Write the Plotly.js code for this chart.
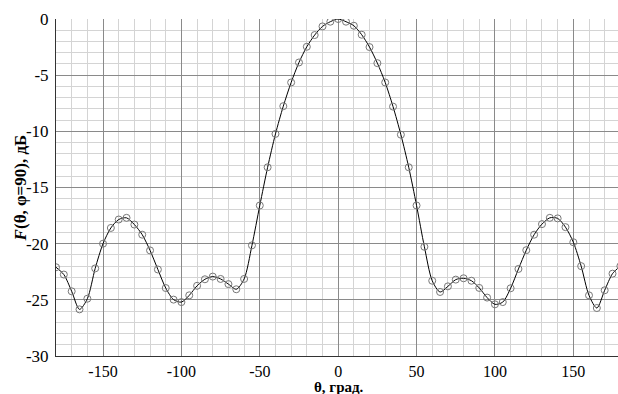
<!DOCTYPE html>
<html>
<head>
<meta charset="utf-8">
<script src="https://cdn.plot.ly/plotly-3.0.1.min.js"></script>
<style>html,body{margin:0;padding:0;background:#fff;}#chart{width:618px;height:394px;}</style>
</head>
<body>
<div id="chart"></div>
<script>
const theta = [-180,-175,-170,-165,-160,-155,-150,-145,-140,-135,-130,-125,-120,-115,-110,-105,-100,-95,-90,-85,-80,-75,-70,-65,-60,-55,-50,-45,-40,-35,-30,-25,-20,-15,-10,-5,0,5,10,15,20,25,30,35,40,45,50,55,60,65,70,75,80,85,90,95,100,105,110,115,120,125,130,135,140,145,150,155,160,165,170,175,180];
const gainDb = [-22.1,-22.75,-24.24,-25.85,-24.9,-22.2,-20.0,-18.6,-17.85,-17.7,-18.3,-19.2,-20.6,-22.3,-23.95,-24.98,-25.2,-24.6,-23.75,-23.17,-22.93,-23.14,-23.6,-24.06,-23.14,-20.15,-16.6,-13.2,-10.23,-7.76,-5.65,-3.87,-2.47,-1.43,-0.66,-0.24,0,-0.24,-0.6,-1.4,-2.5,-3.93,-5.65,-7.8,-10.3,-13.2,-16.6,-20.28,-23.3,-24.3,-23.8,-23.2,-23.08,-23.3,-23.94,-24.8,-25.4,-25.2,-23.97,-22.25,-20.58,-19.2,-18.26,-17.7,-17.75,-18.53,-19.87,-22.0,-24.6,-25.73,-24.15,-22.67,-22.0];
const xTicks = [-150,-100,-50,0,50,100,150];
const yTicks = [-30,-25,-20,-15,-10,-5,0];
const xTitle = '<b>θ, град.</b>';
const yTitle = '<b><i>F</i>(θ, φ=90), дБ</b>';

const serif = 'Liberation Serif';

const traces = [
  {x: theta, y: gainDb, type: 'scatter', mode: 'lines',
   line: {color: '#000', width: 1, shape: 'spline', smoothing: 0.8},
   hoverinfo: 'skip', showlegend: false},
  {x: theta, y: gainDb, type: 'scatter', mode: 'markers',
   marker: {symbol: 'circle-open', size: 7, color: '#777', line: {width: 1, color: '#777'}},
   showlegend: false}
];

const layout = {
  width: 618, height: 394,
  margin: {l: 56, r: 0, t: 19, b: 38},
  paper_bgcolor: '#fff', plot_bgcolor: '#fff',
  font: {family: serif, size: 16, color: '#000'},
  showlegend: false,
  xaxis: {
    range: [-180, 178.5], tickvals: xTicks, ticktext: xTicks.map(String),
    showgrid: true, gridcolor: '#8a8a8a', gridwidth: 1,
    minor: {dtick: 10, tick0: 0, showgrid: true, gridcolor: '#d4d4d4', gridwidth: 1},
    zeroline: false, showline: true, linecolor: '#333', linewidth: 1,
    ticks: '', ticklabelstandoff: 1,
    tickfont: {family: serif, size: 16, color: '#000'}
  },
  yaxis: {
    range: [-30, 0], tickvals: yTicks, ticktext: yTicks.map(String),
    showgrid: true, gridcolor: '#8a8a8a', gridwidth: 1,
    minor: {dtick: 1, tick0: 0, showgrid: true, gridcolor: '#d4d4d4', gridwidth: 1},
    zeroline: false, showline: true, linecolor: '#333', linewidth: 1,
    ticks: '', ticklabelstandoff: 3,
    tickfont: {family: serif, size: 17, color: '#000'}
  },
  annotations: [
    {text: xTitle, xref: 'paper', yref: 'paper', x: 0.503, y: -0.092,
     xanchor: 'center', yanchor: 'middle', showarrow: false,
     font: {family: serif, size: 15, color: '#000'}},
    {text: yTitle, xref: 'paper', yref: 'paper', x: -0.0625, y: 0.5,
     xanchor: 'center', yanchor: 'middle', textangle: -90, showarrow: false,
     font: {family: serif, size: 17, color: '#000'}}
  ]
};

Plotly.newPlot('chart', traces, layout, {staticPlot: true, displayModeBar: false});
</script>
</body>
</html>
